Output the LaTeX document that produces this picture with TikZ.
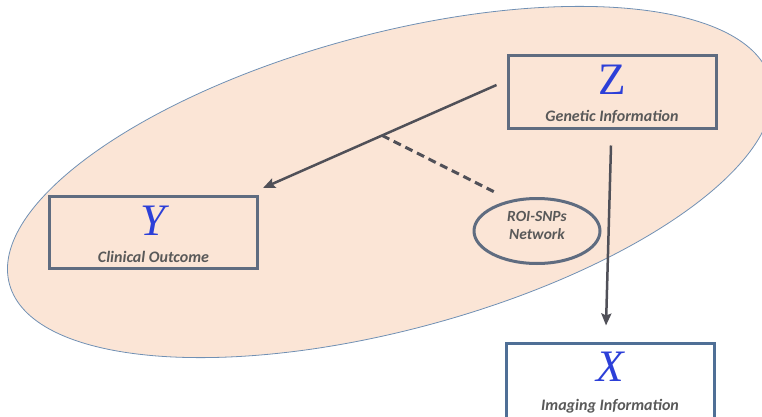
\documentclass[tikz,border=0pt]{standalone}
\usepackage{fontspec}
\setmainfont{Carlito}
\newfontfamily\letterfont{Liberation Serif}
\usetikzlibrary{arrows.meta,calc,shapes.geometric}
\definecolor{peach}{HTML}{FBE5D6}
\definecolor{ovalline}{HTML}{7090B4}
\definecolor{boxline}{HTML}{5F6C80}
\definecolor{xline}{HTML}{4F6F96}
\definecolor{letterblue}{HTML}{2C3FD8}
\definecolor{arrowgray}{HTML}{505058}
\definecolor{textgray}{HTML}{595959}
\begin{document}
\begin{tikzpicture}[
  x=1pt, y=-1pt,
  varbox/.style = {draw=boxline, line width=3pt, fill=peach,
    minimum width=208pt, minimum height=72pt, inner sep=0pt},
  letter/.style = {anchor=base, text=letterblue,
    font=\letterfont\fontsize{45}{45}\selectfont},
  caption/.style = {anchor=base, text=textgray,
    font=\bfseries\itshape\fontsize{16}{16}\selectfont},
  netnode/.style = {ellipse, draw=boxline, line width=3pt, fill=peach,
    minimum width=126pt, minimum height=65pt, inner sep=0pt},
  nettext/.style = {align=center, inner sep=0pt, text=textgray,
    font=\bfseries\itshape\fontsize{15.5}{18}\selectfont},
  arr/.style = {draw=arrowgray, line width=2.5pt,
    -{Stealth[length=12pt,width=10pt,inset=2pt]}},
  dashline/.style = {draw=arrowgray, line width=3pt, dash pattern=on 8pt off 5pt}
  ]
  \useasboundingbox (0,0) rectangle (762,417);
  % shaded region
  \draw[fill=peach, draw=ovalline, line width=0.8pt,
    rotate around={15:(390,182)}] (390,182) ellipse [x radius=394pt, y radius=148pt];

  % boxes
  \node[varbox] (z) at (612,92) {};
  \node[letter] at ([shift={(0,40)}]z.north) {Z};
  \node[caption] at ([shift={(0,67)}]z.north) {Genetic Information};

  \node[varbox] (y) at (153.5,232.5) {};
  \node[letter] at ([shift={(0,40)}]y.north) {\itshape Y};
  \node[caption] at ([shift={(0,67)}]y.north) {Clinical Outcome};

  \node[varbox, draw=xline, fill=white, minimum height=80pt] (x) at (610,383) {};
  \node[letter] at ([shift={(0,40)}]x.north) {\itshape X};
  \node[caption] at ([shift={(0,69)}]x.north) {Imaging Information};

  \node[netnode] (roi) at (537,231) {};
  \node[nettext] (roilabel) at ([shift={(0,-6)}]roi.center) {ROI-SNPs\\Network};

  % connectors
  \coordinate (zout) at ([shift={(-10,-7)}]z.west);
  \coordinate (yin) at ([shift={(4,-7)}]y.north east);
  \coordinate (mid) at ($(zout)!0.49!(yin)$);
  \draw[arr] (zout) -- (yin);
  \draw[dashline] (mid) -- ([shift={(3,-15)}]roi.north west);
  \draw[arr] ([shift={(-1,16)}]z.south) -- ([shift={(-4,-16)}]x.north);
\end{tikzpicture}
\end{document}
